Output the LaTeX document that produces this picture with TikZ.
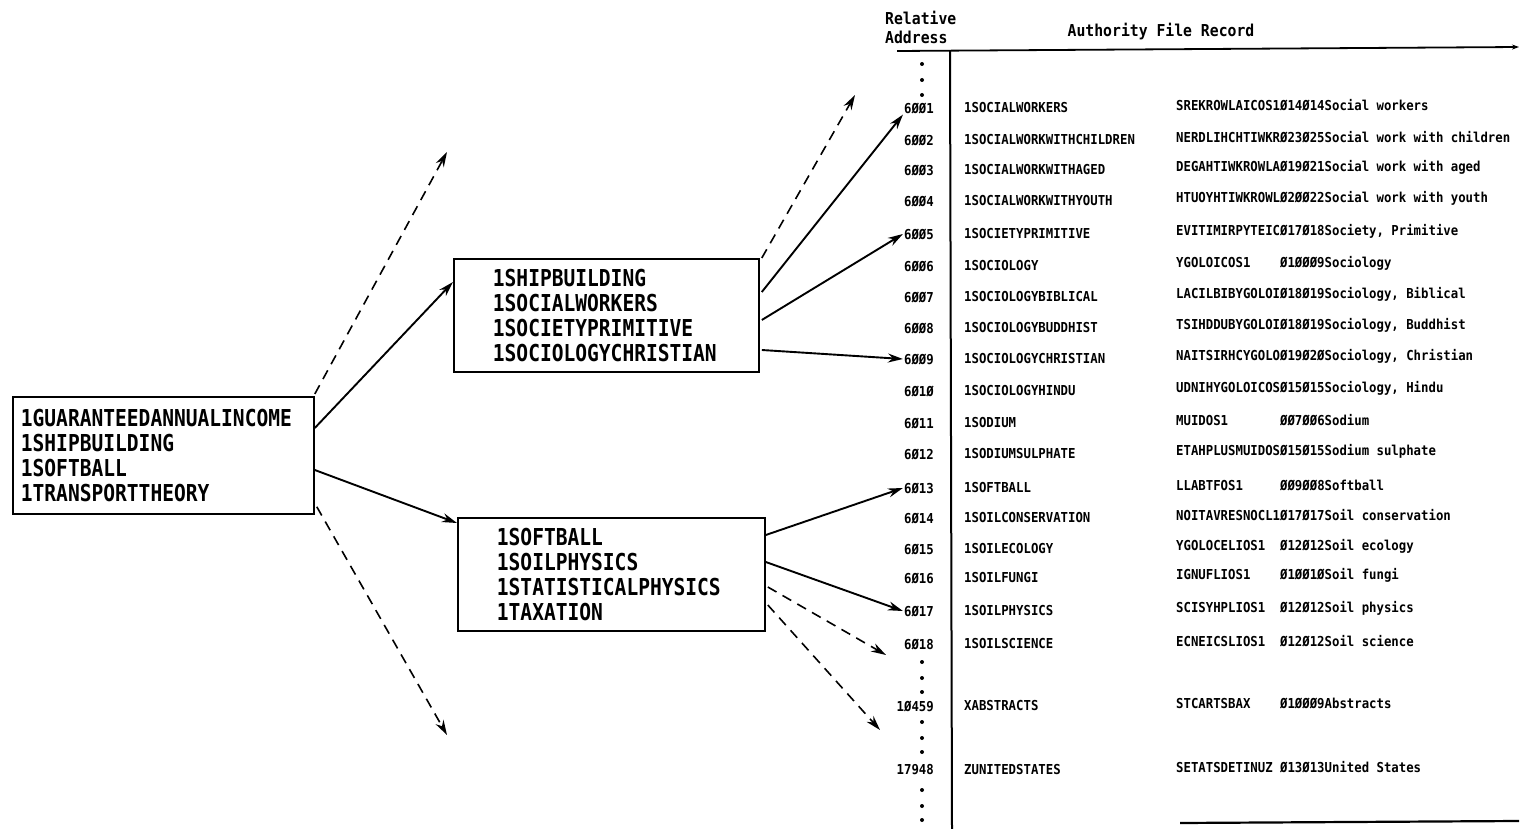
\documentclass[tikz,border=0pt]{standalone}
\usepackage{fontspec}
\usetikzlibrary{arrows.meta,calc}
\newfontfamily\boxfont[FakeStretch=0.84]{DejaVu Sans Mono}
\newfontfamily\tabfont[FakeStretch=0.9]{DejaVu Sans Mono}

\begin{document}
\begin{tikzpicture}[x=1pt,y=-1pt,>={Stealth[length=15pt,width=9pt]},
  keybox/.style={draw,line width=1.8pt,align=left,anchor=north west,inner ysep=0pt,
    font=\boxfont\bfseries\fontsize{23.3}{25}\selectfont},
  link/.style={->,line width=1.9pt},
  guess/.style={->,line width=1.6pt,dash pattern=on 10pt off 7pt},
  addr/.style={anchor=east,inner sep=1pt,font=\tabfont\bfseries\fontsize{13.7}{15}\selectfont},
  entry/.style={anchor=west,inner sep=1pt,font=\tabfont\bfseries\fontsize{13.7}{15}\selectfont},
  head/.style={inner sep=1pt,align=left,font=\tabfont\bfseries\fontsize{16.4}{19}\selectfont}]
\useasboundingbox (0,0) rectangle (1521,829);

% search keys and the two slices of the key list
\node[keybox,inner xsep=8pt,text width=285pt,minimum width=301pt,minimum height=117pt]
  (terms) at (12,396) {1GUARANTEEDANNUALINCOME\\1SHIPBUILDING\\1SOFTBALL\\1TRANSPORTTHEORY};
\node[keybox,inner xsep=39pt,text width=227pt,minimum width=305pt,minimum height=113pt]
  (sliceA) at (453,258) {1SHIPBUILDING\\1SOCIALWORKERS\\1SOCIETYPRIMITIVE\\1SOCIOLOGYCHRISTIAN};
\node[keybox,inner xsep=39pt,text width=229pt,minimum width=307pt,minimum height=113pt]
  (sliceB) at (457,517) {1SOFTBALL\\1SOILPHYSICS\\1STATISTICALPHYSICS\\1TAXATION};

% authority file
\node[head,anchor=west] (relhead) at (884,27) {Relative\\Address};
\node[head] (rechead) at (1161,32) {Authority File Record};
\draw[line width=1.8pt,-{Stealth[length=7pt,width=5pt]}] (897,51) -- (1519,47);
\draw[line width=2pt] (950,51) -- (952,829);
\draw[line width=2.2pt] (1180,823) -- (1519,821);

\foreach \id/\num/\yy/\key/\rec in {
  1/6ØØ1/108/1SOCIALWORKERS/{SREKROWLAICOS1Ø14Ø14Social workers},
  2/6ØØ2/140/1SOCIALWORKWITHCHILDREN/{NERDLIHCHTIWKRØ23Ø25Social work with children},
  3/6ØØ3/170/1SOCIALWORKWITHAGED/{DEGAHTIWKROWLAØ19Ø21Social work with aged},
  4/6ØØ4/201/1SOCIALWORKWITHYOUTH/{HTUOYHTIWKROWLØ2ØØ22Social work with youth},
  5/6ØØ5/234/1SOCIETYPRIMITIVE/{EVITIMIRPYTEICØ17Ø18Society, Primitive},
  6/6ØØ6/266/1SOCIOLOGY/{YGOLOICOS1~~~~Ø1ØØØ9Sociology},
  7/6ØØ7/297/1SOCIOLOGYBIBLICAL/{LACILBIBYGOLOIØ18Ø19Sociology, Biblical},
  8/6ØØ8/328/1SOCIOLOGYBUDDHIST/{TSIHDDUBYGOLOIØ18Ø19Sociology, Buddhist},
  9/6ØØ9/359/1SOCIOLOGYCHRISTIAN/{NAITSIRHCYGOLOØ19Ø2ØSociology, Christian},
  10/6Ø1Ø/391/1SOCIOLOGYHINDU/{UDNIHYGOLOICOSØ15Ø15Sociology, Hindu},
  11/6Ø11/423/1SODIUM/{MUIDOS1~~~~~~~ØØ7ØØ6Sodium},
  12/6Ø12/454/1SODIUMSULPHATE/{ETAHPLUSMUIDOSØ15Ø15Sodium sulphate},
  13/6Ø13/488/1SOFTBALL/{LLABTFOS1~~~~~ØØ9ØØ8Softball},
  14/6Ø14/518/1SOILCONSERVATION/{NOITAVRESNOCL1Ø17Ø17Soil conservation},
  15/6Ø15/549/1SOILECOLOGY/{YGOLOCELIOS1~~Ø12Ø12Soil ecology},
  16/6Ø16/578/1SOILFUNGI/{IGNUFLIOS1~~~~Ø1ØØ1ØSoil fungi},
  17/6Ø17/611/1SOILPHYSICS/{SCISYHPLIOS1~~Ø12Ø12Soil physics},
  18/6Ø18/644/1SOILSCIENCE/{ECNEICSLIOS1~~Ø12Ø12Soil science},
  10459/1Ø459/706/XABSTRACTS/{STCARTSBAX~~~~Ø1ØØØ9Abstracts},
  17948/17948/770/ZUNITEDSTATES/{SETATSDETINUZ~Ø13Ø13United States}}{
  \node[addr] (ar\id) at (935,\yy) {\num};
  \node[entry] (key\id) at (963,\yy) {\key};
  \node[entry] (rec\id) at (1175,\yy-3) {\rec};
}
\foreach \yy in {64,80,95,662,678,692,722,738,752,790,806,820}
  \fill (922,\yy) circle (2);

% free ends of the dashed arrows
\coordinate (offA) at (447,152);
\coordinate (offB) at (447,735);
\coordinate (offC) at (855,95);
\coordinate (offD) at (886,655);
\coordinate (offE) at (880,730);

\draw[guess] ($(terms.north east)+(0,-2)$) -- (offA);
\draw[link] ($(terms.north east)+(0,32)$) -- ($(sliceA.north west)+(0,24)$);
\draw[link] ($(terms.north east)+(0,74)$) -- ($(sliceB.north west)+(0,6)$);
\draw[guess] ($(terms.south east)+(2,-8)$) -- (offB);

\draw[guess] ($(sliceA.north east)+(2,0)$) -- (offC);
\draw[link] ($(sliceA.north east)+(2,34)$) -- (ar1.south west);
\draw[link] ($(sliceA.north east)+(2,62)$) -- (ar5.west);
\draw[link] ($(sliceA.north east)+(2,92)$) -- (ar9.west);

\draw[link] ($(sliceB.north east)+(0,18)$) -- (ar13.west);
\draw[link] ($(sliceB.north east)+(0,45)$) -- (ar17.west);
\draw[guess] ($(sliceB.north east)+(2,70)$) -- (offD);
\draw[guess] ($(sliceB.north east)+(2,88)$) -- (offE);
\end{tikzpicture}
\end{document}
